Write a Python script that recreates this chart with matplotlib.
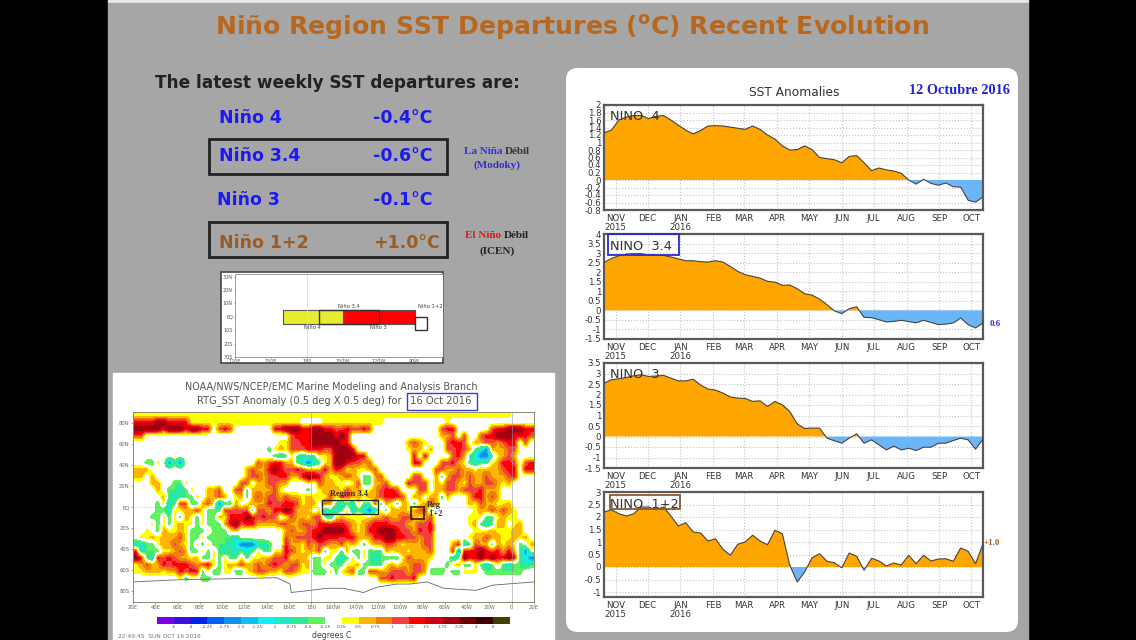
import numpy as np
import pandas as pd
import matplotlib
matplotlib.use('Agg')
import matplotlib.pyplot as plt
import matplotlib.dates as mdates
from matplotlib.colors import ListedColormap, BoundaryNorm
from matplotlib.patches import Rectangle, FancyBboxPatch

W, H = 1136, 640

# ---- weekly anomalies
WEEKS = pd.date_range('2015-10-21', periods=52, freq='7D')
NINO4 = [1.26, 1.33, 1.6, 1.68, 1.72, 1.72, 1.64, 1.7, 1.72, 1.6, 1.46, 1.33, 1.23, 1.32, 1.44, 1.45, 1.44, 1.41,
         1.38, 1.35, 1.44, 1.35, 1.2, 1.09, 0.91, 0.8, 0.81, 0.91, 0.81, 0.6, 0.57, 0.54, 0.46, 0.63, 0.65, 0.46,
         0.25, 0.32, 0.27, 0.24, 0.18, 0.0, -0.11, 0.02, -0.09, -0.14, -0.08, -0.18, -0.19, -0.54, -0.59, -0.45]
NINO34 = [2.51, 2.72, 2.86, 2.95, 2.97, 2.97, 2.9, 2.88, 2.88, 2.8, 2.7, 2.6, 2.6, 2.55, 2.53, 2.6, 2.53, 2.3,
          2.04, 1.87, 1.78, 1.69, 1.52, 1.48, 1.31, 1.33, 1.13, 0.87, 0.8, 0.59, 0.3, -0.03, -0.17, 0.09, 0.19, -0.37,
          -0.38, -0.49, -0.61, -0.58, -0.52, -0.59, -0.65, -0.52, -0.63, -0.75, -0.72, -0.66, -0.4, -0.75, -0.92, -0.66]
NINO3 = [2.54, 2.7, 2.75, 2.81, 2.89, 2.94, 2.86, 2.88, 2.91, 2.78, 2.65, 2.65, 2.73, 2.45, 2.26, 2.21, 2.07, 1.88,
         1.83, 1.81, 1.67, 1.7, 1.43, 1.67, 1.51, 1.19, 0.6, 0.38, 0.4, 0.4, -0.08, -0.2, -0.32, -0.08, 0.13, -0.32,
         -0.16, -0.4, -0.64, -0.46, -0.64, -0.56, -0.67, -0.51, -0.51, -0.32, -0.32, -0.19, -0.08, -0.16, -0.6, -0.13]
NINO12 = [2.2, 2.29, 2.13, 2.04, 2.13, 2.4, 2.4, 2.29, 2.4, 2.04, 1.64, 1.77, 1.4, 1.36, 1.04, 1.13, 0.71, 0.47,
          0.91, 1.0, 1.27, 1.04, 0.89, 1.47, 1.33, 0.07, -0.6, -0.2, 0.37, 0.53, 0.23, 0.17, -0.03, 0.56, 0.43, -0.13,
          0.35, 0.24, 0.04, 0.16, 0.08, 0.47, 0.13, 0.47, 0.24, 0.32, 0.33, 0.23, 0.76, 0.63, 0.13, 0.93]
MONTHS = ['NOV\n2015', 'DEC', 'JAN\n2016', 'FEB', 'MAR', 'APR', 'MAY', 'JUN', 'JUL', 'AUG', 'SEP', 'OCT']
PANEL_NAMES = ['NINO  4', 'NINO  3.4', 'NINO  3', 'NINO  1+2']

# ---- weekly departures table on the left
REGIONS = ['Niño 4', 'Niño 3.4', 'Niño 3', 'Niño 1+2']
DEPARTURES = ['-0.4°C', '-0.6°C', '-0.1°C', '+1.0°C']

# ---- SST anomaly map, coarse reading of the picture (20E..380E, 90N..90S), '.' is land / near zero
ANOM_CODES = {'.': 0, 'g': -0.5, 'c': -1, 'b': -1.75, 'y': 0.4, 'o': 0.7, 'r': 1.1, 'd': 1.4, 'k': 2.1}
SST_ROWS = [
    'yyyyyy yyyyyy yyyyyy yyyyyy yyyyyy yyyyyy yyyyyy yyyyyy yyyyyy yyyyyy yyyyyy yy....',
    'ddddkk ddddyy yyyyyy yyyyyy yyyyyy ....yy yyyyyy yyy... ...... ..y... ...... ......',
    'kkkkkd kkkdkk dd.rdr ...... .ddkkk ddkkdd rrdrrd r..... ...... .rdd.. ....rd dkkkdd',
    'rr.... ...... ...... ...... ....rd ddkkkk dkd... ...... ...... .oor.r ..rddk kkdddr',
    '...... ...... ...... ...... ..yyrr ddkkkk kdd... ...... .oroy. ..rddr .oorro rdd.r.',
    '...... ...... ...... ...... gyoyrr rdddrr kkkd.. ...... .yoo.o ..rrdr ogcboo orr...',
    '...... ...... ...... ...... .gcgyg cggyyo kkkkdd ...... ..d.d. ...rdo gcbbgy oro...',
    '..ggy. bgb... ...... ....ro rddoog cbcgyo kkdrro r..... ..dd.. .rrdoy gcggyo ddr.rd',
    'ooo... ...... ...... ..oroo dkdrrd rooodo dryoyy or.... ...... rrooro oyoooo rdd.dd',
    'oo.o.. ...... ...... ..orro rrddoo dkkdoy yoroyg gor... ..rr.. ogorro rooroo ord...',
    '...oo. .ggy.. ...... .rr.oo rroo.. .y.roo yy.yrg goor.. .drrr. oyrroy roorro yo....',
    '....o. ggcgy. .oor.. rrgooo ory... .g.yoo oyrooy yorddr ...rr. oorror rrdooo ......',
    '.....o gcgggy .ooro. yogoro rroroo yoyyyr yrrooy oorddd r.oo.o ogo... oddoro ......',
    '....gy cgrrgg orybgg o.yooo drrddr yoo.ro gcgcyg grgoyg oygyor o..... oyrooy yo....',
    '....gg cyyoor ygggrr rrrgrr oddkdo oo.ycg cgycgc bcygoo oyorrg ...... .yooro roy...',
    '...ggy gygoyg yggoyd ddkdrd rr.yro oyrrgc yoyyyy yooroo rroyor ...... yyyggy oyy...',
    '...ygy gyoyyg ygggod krddoo oorroo rroddd ddroyo rdddrr roorrd ...... yogcgo o.yo..',
    '..y.go yyoygg gygggy o..... ...oro orddkk kkdoyo ddkkkd rrodrd ...... .yyyoy yyoo..',
    '.yyoyo oorygg yggggg c..... ...ror rrdkdd drddoo oddkkd drrorr ...... yooroo yyoyo.',
    'ccggyo oroygy gygggc cbbbcc g..doo yrorro oryoyg yoorro yooorr ...odc groogo yoyg.o',
    'dcgggy yorogg ygygcg cgcgyg gyydro yoorgy ygoggy gggoyo oyooor ...dbd ddkdrd odogb.',
    'kdgcdr drooyo ggygyg gygyyo orrdyo oyggyy gcgygy gcgggg yroooy ...cgk ddkdkd dkdgcb',
    'yorood rdddro rdygyo orooro rdrorr yoggyg ggyyog gggyoy oorro. ..gyog gygcgy gcggcg',
    'yyoooy oodrdd gyggyy ggyorr ooyrro yygggy gyorgg rroorr rorrog gg.ggy yy.ggg gggg..',
    '...... ..yg.. gg.... ...... ...... ...... ...... ..rrdr rrd... ...... ...... ......',
    '...... ...... ...... ...... ...... ...... ...... ...... ...... ...... ...... ......',
    '...... ...... ...... ...... ...... ...... ...... ...... ...... ...... ...... ......',
    '...... ...... ...... ...... ...... ...... ...... ...... ...... ...... ...... ......',
]
BAR_LEVELS = [-6, -4, -2.25, -1.75, -1.5, -1.25, -1, -0.75, -0.5, -0.25, 0.25, 0.5, 0.75, 1, 1.25, 1.5, 1.75, 2.25, 4, 6]
BAR_COLORS = ['#7a00e6', '#3a10e0', '#0020f0', '#0060f0', '#1090e8', '#10c0e8', '#10f0f0', '#20e8c0', '#30e890',
              '#60f060', '#ffffff', '#ffff00', '#ffb400', '#f08000', '#f04040', '#ff0000', '#d00010', '#a00010',
              '#700000', '#400000', '#404000']
ANT_LON = [20, 59, 104, 149, 161, 162, 179, 194, 209, 227, 239, 257, 269, 284, 299, 328, 343, 380]
ANT_LAT = [-71, -69, -68, -67, -73, -81, -79, -77, -77, -81, -76, -73, -73, -71, -77, -79, -74, -71]

plt.rcParams['font.family'] = 'DejaVu Sans'
plt.rcParams['mathtext.default'] = 'regular'

fig = plt.figure(figsize=(W / 100, H / 100), dpi=100, facecolor='black')


def px_axes(x0, y0, x1, y1, **kw):
    # axes from pixel corners, y measured from the top of the picture
    return fig.add_axes([x0 / W, 1 - y1 / H, (x1 - x0) / W, (y1 - y0) / H], **kw)


# full-figure layer for the slide itself
bg = px_axes(0, 0, W, H, zorder=0)
bg.set_xlim(0, W)
bg.set_ylim(H, 0)
bg.axis('off')
bg.add_patch(Rectangle((108, 0), 920, 3, color='#e8e8e8'))
bg.add_patch(Rectangle((108, 3), 920, 637, color='#a6a6a6'))
bg.add_patch(FancyBboxPatch((574, 76), 436, 548, boxstyle='round,pad=8,rounding_size=12', fc='white', ec='none'))
bg.add_patch(Rectangle((113, 373), 441, 267, color='white'))

TITLE_COL = '#b8681e'
BLUE = '#1a1af0'
BROWN = '#9a5c24'
bg.text(572, 28, r'Niño Region SST Departures ($^{o}$C) Recent Evolution', color=TITLE_COL, fontsize=18.1,
        fontweight='bold', ha='center', va='center')
bg.text(337, 83, 'The latest weekly SST departures are:', color='#222222', fontsize=12.2, fontweight='bold',
        ha='center', va='center')

name_x = [219, 219, 217, 219]
row_y = [118, 156, 200, 243]
row_cols = [BLUE, BLUE, BLUE, BROWN]
for nm, val, nx, ry, col in zip(REGIONS, DEPARTURES, name_x, row_y, row_cols):
    bg.text(nx, ry, nm, color=col, fontsize=12.5, fontweight='bold', ha='left', va='center')
    bg.text(373, ry, val, color=col, fontsize=12.5, fontweight='bold', ha='left', va='center')
for y0, y1 in [(139, 174), (222, 257)]:
    bg.add_patch(Rectangle((209, y0), 238, y1 - y0, fc='none', ec='#222222', lw=2))

serif = dict(family='Liberation Serif', fontweight='bold', fontsize=8, va='center')
bg.text(505, 151, 'La Niña ', color='#3030e0', ha='right', **serif)
bg.text(505, 151, 'Débil', color='#333333', ha='left', **serif)
bg.text(497, 165, '(Modoky)', color='#3030c8', ha='center', **serif)
bg.text(504, 236, 'El Niño ', color='#e01818', ha='right', **serif)
bg.text(504, 236, 'Débil', color='#222222', ha='left', **serif)
bg.text(497, 251, '(ICEN)', color='#222222', ha='center', **serif)

# small Nino regions map
bg.add_patch(Rectangle((221, 272), 222, 91, fc='white', ec='#444444', lw=1.2))
ax_reg = px_axes(235, 274, 443, 357, zorder=2)
ax_reg.set_xlim(120, 293.6)
ax_reg.set_ylim(-30, 32)
ax_reg.add_patch(Rectangle((160, -5), 50, 10, fc='#e8ec30', ec='#555555', lw=0.8))
ax_reg.add_patch(Rectangle((210, -5), 60, 10, fc='#ff0000', ec='#555555', lw=0.8))
ax_reg.add_patch(Rectangle((190, -5), 50, 10, fc='none', ec='#333333', lw=1))
ax_reg.add_patch(Rectangle((270, -10), 10, 10, fc='white', ec='#333333', lw=1))
ax_reg.axvline(180, color='#dddddd', lw=0.6)
ax_reg.text(215, 6, 'Niño 3.4', fontsize=3.8, color='#444444', ha='center', va='bottom')
ax_reg.text(283, 6, 'Niño 1+2', fontsize=3.8, color='#444444', ha='center', va='bottom')
ax_reg.text(185, -6, 'Niño 4', fontsize=3.8, color='#444444', ha='center', va='top')
ax_reg.text(240, -6, 'Niño 3', fontsize=3.8, color='#444444', ha='center', va='top')
ax_reg.set_xticks([120, 150, 180, 210, 240, 270], ['120E', '150E', '180', '150W', '120W', '90W'])
ax_reg.set_yticks([-30, -20, -10, 0, 10, 20, 30], ['30S', '20S', '10S', 'EQ', '10N', '20N', '30N'])
ax_reg.tick_params(labelsize=3.5, length=1, width=0.4, pad=0.5, colors='#555555')
for s in ax_reg.spines.values():
    s.set_linewidth(0.5)
    s.set_color('#777777')

# SST anomaly map
bg.text(331, 387, 'NOAA/NWS/NCEP/EMC Marine Modeling and Analysis Branch', color='#555555', fontsize=6.9, ha='center',
        va='center')
bg.text(299, 401, 'RTG_SST Anomaly (0.5 deg X 0.5 deg) for', color='#555555', fontsize=7.1, ha='center', va='center')
bg.text(441, 401, '16 Oct 2016', color='#555555', fontsize=7.2, ha='center', va='center')
bg.add_patch(Rectangle((407, 393), 70, 17, fc='none', ec='#3a3ad8', lw=1))
bg.text(118, 637, '22:49:45  SUN OCT 16 2016', color='#777777', fontsize=4.2, ha='left', va='center')
bg.text(332, 636, 'degrees C', color='#444444', fontsize=5.6, ha='center', va='center')

sst = np.array([[ANOM_CODES[c] for c in row.replace(' ', '')] for row in SST_ROWS], dtype=float)
cmap = ListedColormap(BAR_COLORS)
norm = BoundaryNorm(BAR_LEVELS, cmap.N, extend='both')
ax_map = px_axes(133, 412, 534, 602, zorder=2)
im = ax_map.imshow(sst, extent=[20, 380, -90, 90], aspect='auto', cmap=cmap, norm=norm, interpolation='bilinear')
ax_map.plot(ANT_LON, ANT_LAT, color='#666666', lw=0.6)
ax_map.axvline(180, color='#999999', lw=0.4)
ax_map.axvline(360, color='#999999', lw=0.4)
ax_map.axhline(0, color='#999999', lw=0.4, ls=':')
ax_map.add_patch(Rectangle((190, -7), 50, 14, fc='none', ec='#222222', lw=1))
ax_map.add_patch(Rectangle((270, -11), 11, 11, fc='none', ec='#222222', lw=1.2))
ax_map.text(214, 9, 'Region 3.4', family='Liberation Serif', fontweight='bold', fontsize=6, color='#333333',
            ha='center', va='bottom')
ax_map.text(284, -2, 'Reg\n 1+2', family='Liberation Serif', fontweight='bold', fontsize=6, color='#333333',
            ha='left', va='center')
ax_map.set_xlim(20, 380)
ax_map.set_ylim(-90, 90)
ax_map.set_xticks(np.arange(20, 381, 20), ['20E', '40E', '60E', '80E', '100E', '120E', '140E', '160E', '180', '160W',
                                          '140W', '120W', '100W', '80W', '60W', '40W', '20W', '0', '20E'])
ax_map.set_yticks(np.arange(-80, 81, 20), ['80S', '60S', '40S', '20S', 'EQ', '20N', '40N', '60N', '80N'])
ax_map.tick_params(labelsize=3.8, length=1.5, width=0.4, pad=1, colors='#666666')
for s in ax_map.spines.values():
    s.set_linewidth(0.7)
    s.set_color('#8a8a70')

cax = px_axes(157, 617, 510, 624, zorder=2)
cb = fig.colorbar(im, cax=cax, orientation='horizontal', ticks=BAR_LEVELS, drawedges=False, extendfrac=1 / 19,
                  extendrect=True)
cb.ax.set_xticklabels([str(v) for v in BAR_LEVELS])
cb.ax.tick_params(labelsize=3.2, length=0, pad=1, colors='#555555')
cb.outline.set_visible(False)

# SST anomaly panels on the right
bg.text(794, 93, 'SST Anomalies', color='#333333', fontsize=8.8, ha='center', va='center')
bg.text(1010, 90, '12 Octubre 2016', family='Liberation Serif', fontweight='bold', color='#2020d8', fontsize=10.3,
        ha='right', va='center')
bg.text(990, 324, '0.6', family='Liberation Serif', fontweight='bold', color='#3030c8', fontsize=6.5, ha='left',
        va='center')
bg.text(984, 543, '+1.0', family='Liberation Serif', fontweight='bold', color=BROWN, fontsize=6.5, ha='left',
        va='center')

series = [NINO4, NINO34, NINO3, NINO12]
tops = [105, 234, 363, 492]
ylims = [(-0.8, 2), (-1.5, 4), (-1.5, 3.5), (-1.2, 3)]
ysteps = [0.2, 0.5, 0.5, 0.5]
month_starts = pd.date_range('2015-11-01', periods=12, freq='MS')
for vals, top, ylim, step in zip(series, tops, ylims, ysteps):
    ax = px_axes(604, top, 983, top + 105, zorder=2)
    vals = np.array(vals)
    x = mdates.date2num(WEEKS)
    ax.fill_between(x, vals, 0, where=vals >= 0, interpolate=True, color='#ffa500', lw=0, zorder=2)
    ax.fill_between(x, vals, 0, where=vals <= 0, interpolate=True, color='#6cb6f8', lw=0, zorder=2)
    ax.plot(x, vals, color='#444444', lw=0.8, zorder=3)
    ax.set_xlim(x[0], x[-1])
    ax.set_ylim(*ylim)
    ax.set_xticks(mdates.date2num(month_starts), MONTHS)
    first = np.ceil(ylim[0] / step) * step
    yt = np.arange(first, ylim[1] + step / 2, step)
    ax.set_yticks(yt, [f'{v:g}' if abs(v) > 1e-9 else '0' for v in yt])
    ax.grid(True, color='#c4c4c4', ls=':', lw=0.8, zorder=1)
    ax.tick_params(labelsize=6.2, length=0, pad=2, labelcolor='#333333', axis='both')
    ax.tick_params(axis='x', pad=3)
    for lab in ax.get_xticklabels():
        lab.set_linespacing(0.95)
    for s in ax.spines.values():
        s.set_linewidth(1.6)
        s.set_color('#5a5a5a')

# labels and boxes drawn over the panels
ax_over = px_axes(0, 0, W, H, zorder=3)
ax_over.set_xlim(0, W)
ax_over.set_ylim(H, 0)
ax_over.axis('off')
ax_over.patch.set_alpha(0)
ax_over.add_patch(Rectangle((608, 234), 71, 21, fc='none', ec='#2a2ad0', lw=1.3))
ax_over.add_patch(Rectangle((610, 495), 70, 14, fc='none', ec='#8a5a30', lw=1.3))
for name, top in zip(PANEL_NAMES, tops):
    ax_over.text(610, top + 12, name, color='#333333', fontsize=9.3, ha='left', va='center')

fig.savefig('out.png', dpi=100, facecolor='black')
